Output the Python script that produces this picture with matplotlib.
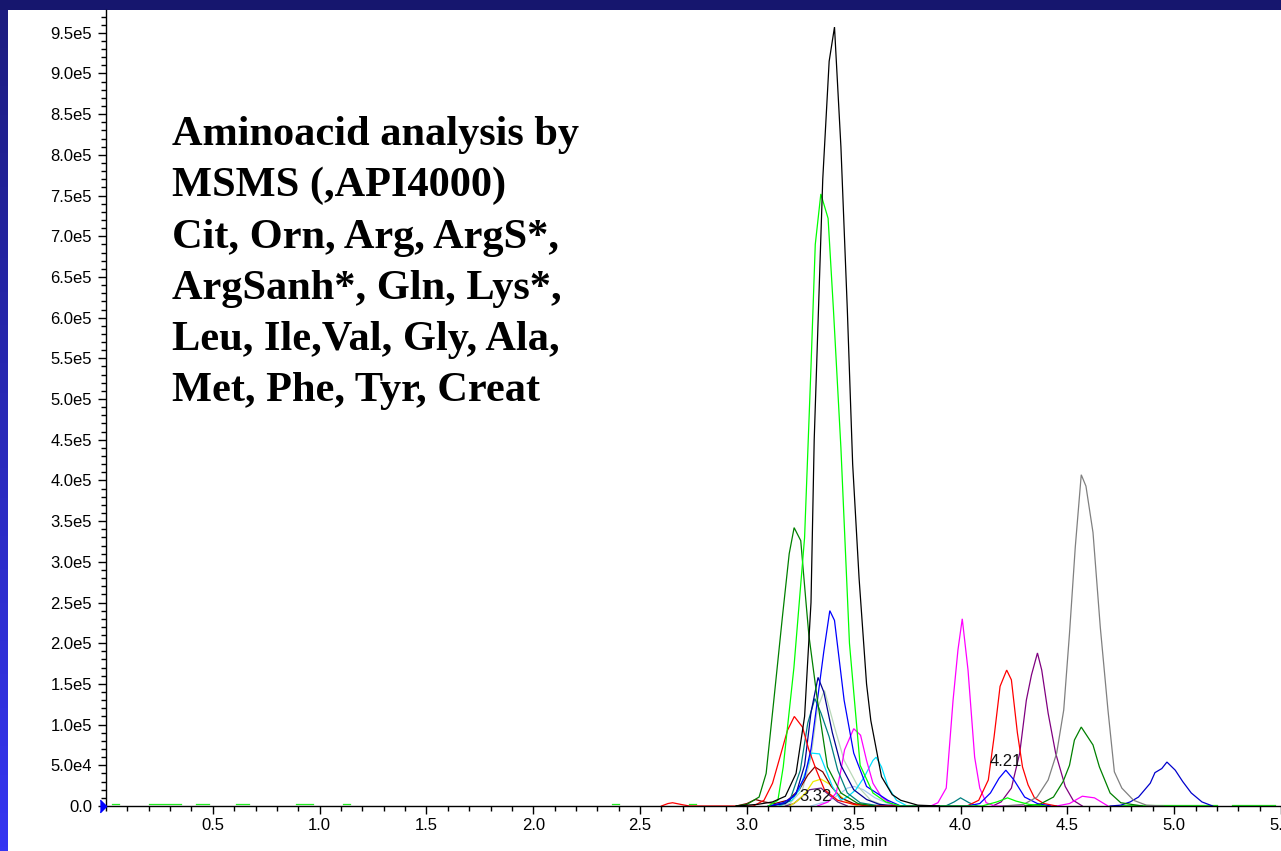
import numpy as np
import matplotlib
matplotlib.use("Agg")
import matplotlib.pyplot as plt
from matplotlib.patches import Rectangle
from matplotlib.colors import LinearSegmentedColormap
from matplotlib import ticker, transforms

plt.rcParams['font.family'] = ['Liberation Sans', 'DejaVu Sans']

# retention time (min) / intensity (cps) pairs
black_t = [2.95, 3.05, 3.12, 3.18, 3.23, 3.27, 3.30, 3.315, 3.335, 3.355, 3.385, 3.41,
           3.44, 3.47, 3.495, 3.525, 3.56, 3.58, 3.63, 3.68, 3.72, 3.80, 3.90]
black_i = [0, 2e3, 5e3, 1.2e4, 4e4, 1.1e5, 2.5e5, 4.5e5, 6.1e5, 7.7e5, 9.15e5, 9.57e5,
           8.1e5, 6.1e5, 4.2e5, 2.8e5, 1.5e5, 1.05e5, 3.6e4, 1.4e4, 7e3, 1e3, 0]

lime_t = [3.10, 3.145, 3.17, 3.22, 3.27, 3.30, 3.32, 3.346, 3.38, 3.405, 3.44, 3.48,
          3.53, 3.59, 3.65, 3.72, 4.10, 4.17, 4.22, 4.26, 4.32, 4.40]
lime_i = [0, 7e3, 4.8e4, 1.7e5, 3.3e5, 5.4e5, 6.9e5, 7.52e5, 7.22e5, 6.1e5, 4.4e5, 2.0e5,
          5e4, 1.6e4, 5e3, 0, 0, 5e3, 1e4, 6e3, 2e3, 0]

lime_base_t = [0.03, 0.06, np.nan, 0.20, 0.35, np.nan, 0.42, 0.48, np.nan, 0.61, 0.67, np.nan,
               0.89, 0.97, np.nan, 1.11, 1.14, np.nan, 2.37, 2.40, np.nan, 2.73, 2.76, np.nan,
               4.75, 5.20, np.nan, 5.27, 5.47]
lime_base_i = [2e3, 2e3, np.nan, 2e3, 2e3, np.nan, 2e3, 2e3, np.nan, 2e3, 2e3, np.nan,
               2e3, 2e3, np.nan, 2e3, 2e3, np.nan, 2e3, 2e3, np.nan, 2e3, 2e3, np.nan,
               1e3, 1e3, np.nan, 1e3, 1e3]

dkgreen_t = [2.95, 3.0, 3.057, 3.09, 3.126, 3.166, 3.198, 3.221, 3.252, 3.276, 3.29, 3.33,
             3.377, 3.44, 3.52, 3.60]
dkgreen_i = [0, 2e3, 1.1e4, 4e4, 1.3e5, 2.32e5, 3.1e5, 3.42e5, 3.26e5, 2.52e5, 2.1e5, 1.3e5,
             4.8e4, 1.6e4, 3e3, 0]

dkgreen2_t = [4.30, 4.37, 4.435, 4.48, 4.51, 4.533, 4.565, 4.62, 4.65, 4.70, 4.75, 4.85]
dkgreen2_i = [0, 2e3, 1.1e4, 3e4, 5e4, 8.1e4, 9.7e4, 7.5e4, 4.8e4, 1.6e4, 4e3, 0]

gray_t = [4.20, 4.295, 4.358, 4.41, 4.45, 4.483, 4.51, 4.537, 4.565, 4.587, 4.62, 4.654,
          4.69, 4.72, 4.755, 4.81, 4.87, 4.95]
gray_i = [0, 2e3, 1.1e4, 3.2e4, 6.5e4, 1.18e5, 2.12e5, 3.18e5, 4.07e5, 3.93e5, 3.36e5, 2.2e5,
          1.18e5, 4.2e4, 2.2e4, 7e3, 1e3, 0]

blue_t = [3.10, 3.17, 3.22, 3.27, 3.30, 3.33, 3.36, 3.388, 3.41, 3.455, 3.50, 3.56, 3.66,
          3.72, 4.03, 4.09, 4.14, 4.18, 4.212, 4.25, 4.30, 4.36, 4.42]
blue_i = [0, 4e3, 1.2e4, 3.5e4, 7e4, 1.3e5, 1.9e5, 2.4e5, 2.28e5, 1.3e5, 6.5e4, 2.4e4, 7e3,
          0, 0, 3e3, 1.6e4, 3.4e4, 4.4e4, 3.2e4, 1.1e4, 3e3, 0]

blue2_t = [4.70, 4.75, 4.794, 4.833, 4.888, 4.91, 4.942, 4.966, 5.005, 5.04, 5.08, 5.13, 5.18]
blue2_i = [0, 1e3, 5e3, 1.1e4, 2.8e4, 4.1e4, 4.6e4, 5.4e4, 4.4e4, 3e4, 1.6e4, 5e3, 0]

navy_t = [3.10, 3.18, 3.23, 3.27, 3.30, 3.333, 3.36, 3.40, 3.44, 3.50, 3.56, 3.62, 3.70]
navy_i = [0, 3e3, 1.5e4, 5e4, 1.15e5, 1.58e5, 1.4e5, 9e4, 5e4, 2e4, 8e3, 2e3, 0]

teal_t = [3.12, 3.20, 3.25, 3.285, 3.318, 3.347, 3.385, 3.425, 3.47, 3.53, 3.60, 3.70,
          3.93, 3.97, 4.00, 4.04, 4.08]
teal_i = [0, 6e3, 4.4e4, 1.02e5, 1.32e5, 1.14e5, 8.5e4, 4.4e4, 1.6e4, 4e3, 1e3, 0,
          0, 5e3, 1e4, 4e3, 0]

red_t = [2.60, 2.63, 2.652, 2.69, 2.73, 3.03, 3.08, 3.12, 3.16, 3.19, 3.222, 3.26, 3.29,
         3.325, 3.363, 3.425, 3.50, 3.60, 4.03, 4.085, 4.13, 4.157, 4.185, 4.216, 4.238,
         4.266, 4.29, 4.316, 4.346, 4.39, 4.45]
red_i = [0, 3e3, 4e3, 2e3, 0, 0, 7e3, 2.8e4, 6.5e4, 9.3e4, 1.1e5, 9.7e4, 6.9e4,
         4.4e4, 2e4, 7e3, 2e3, 0, 0, 7e3, 3.2e4, 8.5e4, 1.47e5, 1.67e5, 1.55e5,
         9e4, 4.8e4, 2.6e4, 1e4, 3e3, 0]

magenta_t = [3.33, 3.38, 3.418, 3.44, 3.457, 3.50, 3.532, 3.56, 3.59, 3.63, 3.69,
             3.86, 3.894, 3.933, 3.965, 3.988, 4.008, 4.035, 4.066, 4.09, 4.12, 4.16,
             4.45, 4.51, 4.57, 4.627, 4.69]
magenta_i = [0, 5e3, 1.6e4, 4.4e4, 6.9e4, 9.5e4, 8.7e4, 5.6e4, 2.8e4, 1.1e4, 0,
             0, 4e3, 2.2e4, 1.3e5, 1.92e5, 2.3e5, 1.67e5, 6e4, 2.2e4, 4e3, 0,
             0, 3e3, 1.2e4, 1e4, 0]

cyan_t = [3.15, 3.21, 3.245, 3.277, 3.303, 3.34, 3.37, 3.40, 3.44, 3.47, 3.51, 3.55,
          3.59, 3.605, 3.63, 3.66, 3.70, 3.75]
cyan_i = [0, 7e3, 2e4, 4.4e4, 6.5e4, 6.4e4, 4.4e4, 2.4e4, 7e3, 1.1e4, 2e4, 3.6e4,
          5.6e4, 6e4, 4.8e4, 2.4e4, 7e3, 0]

purple_t = [4.15, 4.19, 4.238, 4.277, 4.308, 4.332, 4.36, 4.38, 4.41, 4.445, 4.49, 4.527, 4.57]
purple_i = [0, 5e3, 2.2e4, 6.5e4, 1.3e5, 1.61e5, 1.88e5, 1.67e5, 1.14e5, 6.5e4, 2.4e4, 7e3, 0]

maroon_t = [2.95, 3.00, 3.04, 3.08, 3.13, 3.19, 3.245, 3.285, 3.318, 3.355, 3.395, 3.44, 3.50, 3.56]
maroon_i = [0, 3e3, 8e3, 5e3, 3e3, 7e3, 2e4, 3.8e4, 4.8e4, 4.2e4, 2.4e4, 1e4, 3e3, 0]

yellow_t = [3.20, 3.24, 3.277, 3.31, 3.347, 3.386, 3.425, 3.47, 3.52]
yellow_i = [0, 7e3, 1.7e4, 3e4, 3.3e4, 2.7e4, 1.5e4, 5e3, 0]

dkpurple_t = [3.18, 3.22, 3.26, 3.293, 3.347, 3.378, 3.425, 3.47]
dkpurple_i = [0, 3e3, 1.2e4, 2e4, 2.2e4, 1.5e4, 5e3, 0]

sage_t = [3.15, 3.20, 3.26, 3.30, 3.33, 3.363, 3.41, 3.455, 3.52, 3.58, 3.65]
sage_i = [0, 3e3, 2e4, 6e4, 1.2e5, 1.42e5, 9.7e4, 5.6e4, 2.4e4, 7e3, 0]

skyblue_t = [3.30, 3.39, 3.44, 3.47, 3.503, 3.545, 3.60, 3.67, 3.72]
skyblue_i = [0, 7e3, 1.6e4, 2.2e4, 2.4e4, 2e4, 1e4, 2e3, 0]

peak_labels = ["3.32", "4.21"]
peak_label_t = [3.32, 4.21]
peak_label_i = [1.2e4, 5.5e4]

title_lines = ["Aminoacid analysis by", "MSMS (,API4000)", "Cit, Orn, Arg, ArgS*,",
               "ArgSanh*, Gln, Lys*,", "Leu, Ile,Val, Gly, Ala,", "Met, Phe, Tyr, Creat"]

W, H = 1281, 851
fig = plt.figure(figsize=(W / 100, H / 100), dpi=100, facecolor='#16166e')

# slide background: white panel and the blue gradient strip on the left
fig.patches.append(Rectangle((8 / W, 0), 1 - 8 / W, 841 / H, transform=fig.transFigure,
                             facecolor='white', edgecolor='none', zorder=-10))
strip = fig.add_axes([0, 0, 8 / W, 841 / H])
grad = LinearSegmentedColormap.from_list('strip', ['#1d1d80', '#3535f2'])
strip.imshow(np.linspace(0, 1, 200).reshape(-1, 1), aspect='auto', cmap=grad)
strip.axis('off')

ax = fig.add_axes([106 / W, 45 / H, 1 - 106 / W, 796 / H])
ax.patch.set_alpha(0)

traces = [
    (lime_base_t, lime_base_i, '#22ee22'),
    (skyblue_t, skyblue_i, '#a6caf0'),
    (sage_t, sage_i, '#b8d8b8'),
    (dkpurple_t, dkpurple_i, '#602080'),
    (yellow_t, yellow_i, '#eeee00'),
    (maroon_t, maroon_i, '#800000'),
    (cyan_t, cyan_i, '#00e0ff'),
    (purple_t, purple_i, '#800080'),
    (magenta_t, magenta_i, '#ff00ff'),
    (teal_t, teal_i, '#008080'),
    (navy_t, navy_i, '#000090'),
    (red_t, red_i, '#ff0000'),
    (blue_t, blue_i, '#0000ff'),
    (blue2_t, blue2_i, '#0000cc'),
    (gray_t, gray_i, '#808080'),
    (dkgreen2_t, dkgreen2_i, '#008000'),
    (dkgreen_t, dkgreen_i, '#008000'),
    (lime_t, lime_i, '#00ff00'),
    (black_t, black_i, '#000000'),
]
for t, y, c in traces:
    ax.plot(t, y, color=c, lw=0.9, solid_joinstyle='miter')

for lab, t, y in zip(peak_labels, peak_label_t, peak_label_i):
    ax.text(t, y, lab, ha='center', va='center', fontsize=12, color='#111111')

ax.set_xlim(0, 5.5)
ax.set_ylim(0, 9.78e5)
for s in ['top', 'right']:
    ax.spines[s].set_visible(False)
ax.spines['left'].set_linewidth(1)
ax.spines['bottom'].set_linewidth(1)

ax.xaxis.set_major_locator(ticker.FixedLocator(np.arange(0.5, 5.51, 0.5)))
ax.xaxis.set_major_formatter(ticker.FormatStrFormatter('%.1f'))
ax.xaxis.set_minor_locator(ticker.MultipleLocator(0.1))
ax.yaxis.set_major_locator(ticker.FixedLocator(np.arange(0, 9.51e5, 5e4)))
ax.yaxis.set_minor_locator(ticker.MultipleLocator(1e4))


def sci_fmt(v, pos):
    if v <= 0:
        return '0.0'
    e = int(np.floor(np.log10(v) + 1e-9))
    return f"{v / 10 ** e:.1f}e{e}"


ax.yaxis.set_major_formatter(ticker.FuncFormatter(sci_fmt))
ax.tick_params(which='major', direction='out', length=6, width=1, labelsize=12)
ax.tick_params(axis='y', which='major', pad=4)
ax.tick_params(axis='x', which='major', pad=3)
ax.tick_params(which='minor', direction='out', length=3.5, width=1)

# blue start marker at the origin
tri = transforms.offset_copy(ax.transData, fig=fig, x=-3, y=0, units='dots')
ax.plot([0], [0], marker=[(-0.5, 1), (0.5, 0), (-0.5, -1)], ms=9, color='#0000ff',
        transform=tri, clip_on=False, zorder=5)

fig.text(851 / W, 1 - 842 / H, 'Time, min', ha='center', va='center', fontsize=12)

for k, line in enumerate(title_lines):
    fig.text(172 / W, 1 - (145 + 51.3 * k) / H, line, ha='left', va='baseline',
             fontsize=30.5, fontweight='bold', family=['Liberation Serif', 'DejaVu Serif'])

fig.savefig('out.png', dpi=100, facecolor=fig.get_facecolor())
